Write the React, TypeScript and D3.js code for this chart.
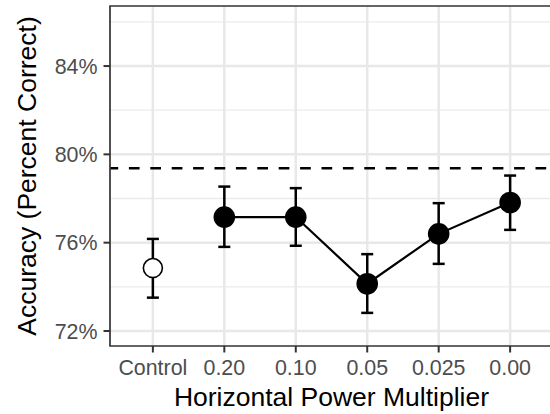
import React from "react";
import * as d3 from "d3";

const categories = ["Control", "0.20", "0.10", "0.05", "0.025", "0.00"];
const means = [74.85, 77.16, 77.16, 74.14, 76.40, 77.82];
const lowers = [73.51, 75.81, 75.86, 72.82, 75.04, 76.58];
const uppers = [76.17, 78.54, 78.47, 75.48, 77.79, 79.04];
const isControl = [true, false, false, false, false, false];
const referenceLine = 79.37;
const yMajorTicks = [72, 76, 80, 84];
const yMinorTicks = [74, 78, 82, 86];
const yDomain = [71.32, 86.72];
const xTitle = "Horizontal Power Multiplier";
const yTitle = "Accuracy (Percent Correct)";

const W = 550;
const H = 414;
const left = 110;
const right = 553;
const top = 6;
const bottom = 346;
const font = "'Liberation Sans', Arial, Helvetica, sans-serif";

export default function App() {
  const x = d3.scalePoint<string>().domain(categories).range([left, right]).padding(0.6);
  const y = d3.scaleLinear().domain(yDomain).range([bottom, top]);
  const rows = categories.map((c, i) => ({
    c,
    m: means[i],
    lo: lowers[i],
    hi: uppers[i],
    ctrl: isControl[i],
  }));
  const lineData = rows.filter((r) => !r.ctrl);
  const line = d3
    .line<(typeof rows)[number]>()
    .x((d) => x(d.c) as number)
    .y((d) => y(d.m));
  const cap = 6;

  return (
    <svg
      width={W}
      height={H}
      style={{ position: "absolute", left: 0, top: 0, background: "#fff" }}
      fontFamily={font}
    >
      <rect x={0} y={0} width={W} height={H} fill="#fff" />
      <defs>
        <clipPath id="panel">
          <rect x={left} y={top} width={right - left} height={bottom - top} />
        </clipPath>
      </defs>
      <g clipPath="url(#panel)">
        {yMinorTicks.map((t) => (
          <line key={"mi" + t} x1={left} x2={right} y1={y(t)} y2={y(t)} stroke="#ebebeb" strokeWidth={1.3} />
        ))}
        {yMajorTicks.map((t) => (
          <line key={"ma" + t} x1={left} x2={right} y1={y(t)} y2={y(t)} stroke="#e8e8e8" strokeWidth={2.5} />
        ))}
        {categories.map((c) => (
          <line key={"vx" + c} x1={x(c)} x2={x(c)} y1={top} y2={bottom} stroke="#e8e8e8" strokeWidth={2.5} />
        ))}
        <line
          x1={left - 2.5}
          x2={right}
          y1={y(referenceLine)}
          y2={y(referenceLine)}
          stroke="#000"
          strokeWidth={2.3}
          strokeDasharray="10.7 10.7"
        />
        {rows.map((r) => {
          const cx = x(r.c) as number;
          return (
            <g key={"eb" + r.c} stroke="#000" strokeWidth={2.5}>
              <line x1={cx} x2={cx} y1={y(r.lo)} y2={y(r.hi)} />
              <line x1={cx - cap} x2={cx + cap} y1={y(r.hi)} y2={y(r.hi)} />
              <line x1={cx - cap} x2={cx + cap} y1={y(r.lo)} y2={y(r.lo)} />
            </g>
          );
        })}
        <path d={line(lineData) || ""} fill="none" stroke="#000" strokeWidth={2.2} />
        {rows.map((r) => (
          <circle
            key={"pt" + r.c}
            cx={x(r.c) as number}
            cy={y(r.m)}
            r={r.ctrl ? 9.5 : 10}
            fill={r.ctrl ? "#fff" : "#000"}
            stroke="#000"
            strokeWidth={1.6}
          />
        ))}
      </g>
      <path
        d={`M${right + 2},${top} H${left} V${bottom} H${right + 2}`}
        fill="none"
        stroke="#333"
        strokeWidth={1.7}
      />
      {yMajorTicks.map((t) => (
        <g key={"yt" + t}>
          <line x1={left - 6.5} x2={left} y1={y(t)} y2={y(t)} stroke="#333" strokeWidth={2} />
          <text x={left - 12.5} y={y(t)} dy="0.36em" textAnchor="end" fontSize={21.4} fill="#4d4d4d">
            {t}%
          </text>
        </g>
      ))}
      {categories.map((c) => (
        <g key={"xt" + c}>
          <line x1={x(c)} x2={x(c)} y1={bottom} y2={bottom + 6.5} stroke="#333" strokeWidth={2} />
          <text x={x(c)} y={375} textAnchor="middle" fontSize={21.4} fill="#4d4d4d">
            {c}
          </text>
        </g>
      ))}
      <text x={(left + right) / 2} y={406} textAnchor="middle" fontSize={26.5} fill="#000">
        {xTitle}
      </text>
      <text
        transform={`translate(36,${(top + bottom) / 2}) rotate(-90)`}
        textAnchor="middle"
        fontSize={26.5}
        fill="#000"
      >
        {yTitle}
      </text>
    </svg>
  );
}
